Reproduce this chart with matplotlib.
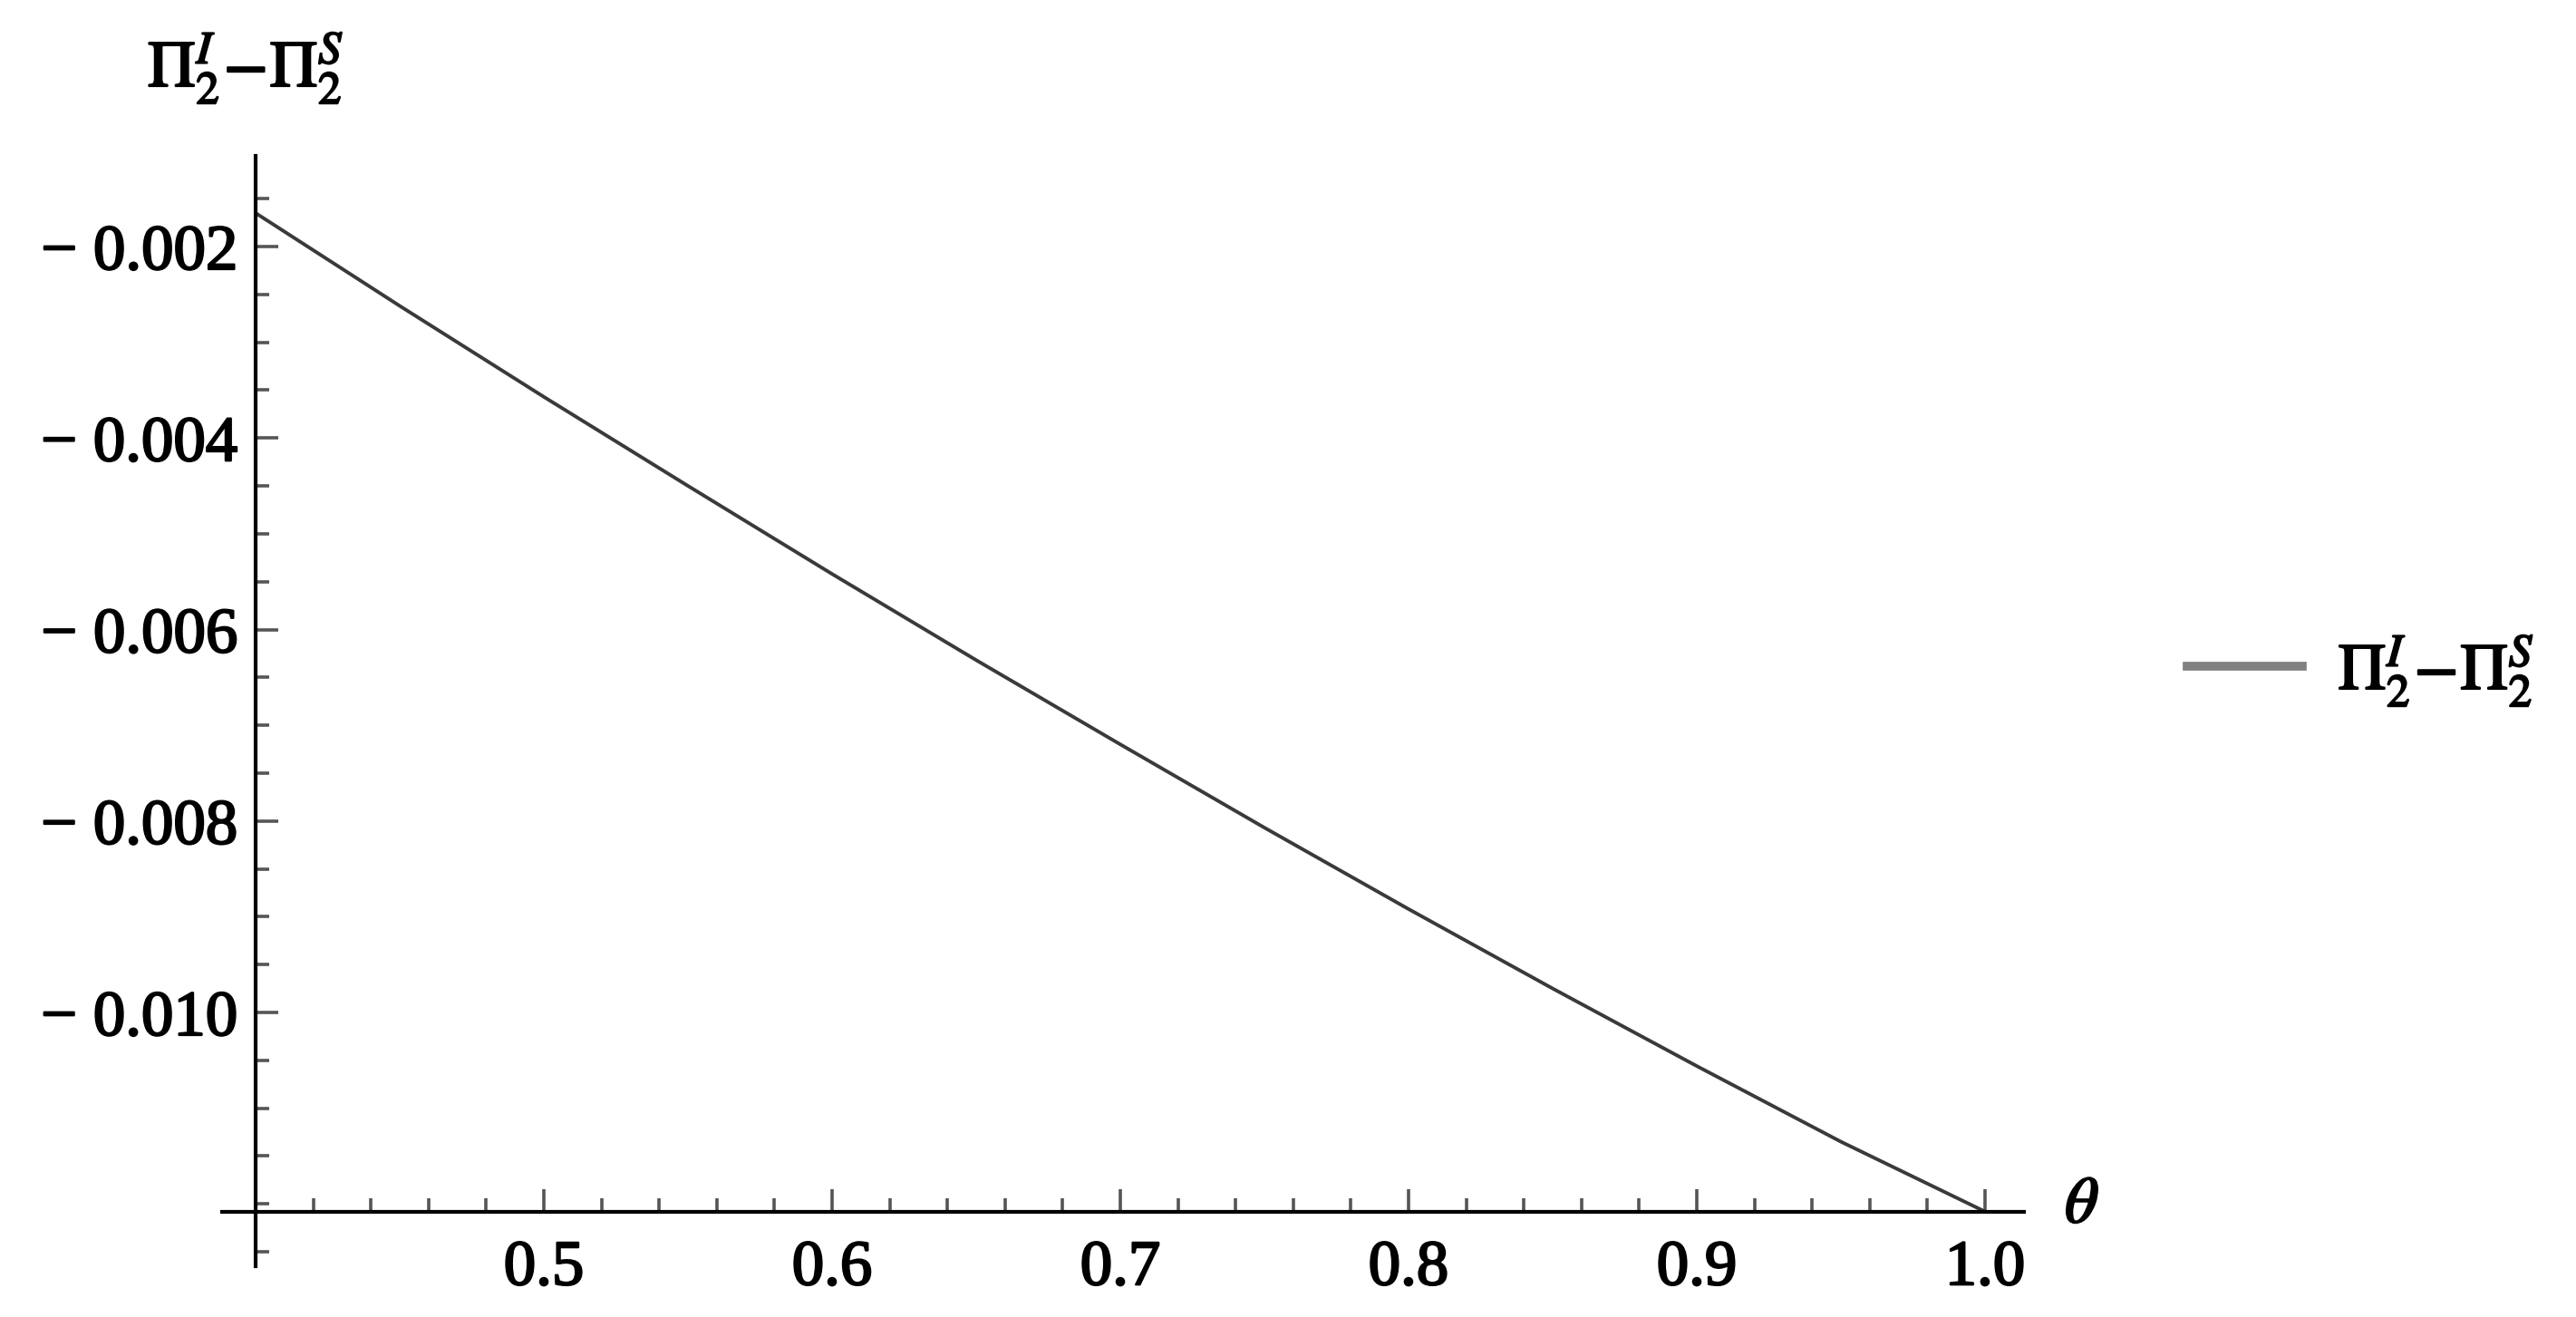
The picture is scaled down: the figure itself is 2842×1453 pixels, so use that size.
import matplotlib
matplotlib.use("Agg")
import matplotlib.pyplot as plt
import matplotlib.patheffects as pe
from matplotlib.ticker import FixedLocator, FixedFormatter, MultipleLocator
from matplotlib.lines import Line2D

# ---- data ----
theta = [0.40, 0.45, 0.50, 0.55, 0.60, 0.65, 0.70, 0.75, 0.80, 0.85, 0.90, 0.95, 1.00]
diff_values = [-0.00165, -0.00262, -0.00357, -0.00450, -0.00542, -0.00632, -0.00720,
               -0.00807, -0.00892, -0.00975, -0.01056, -0.01135, -0.01208]
series_label = r"$\Pi_2^{I}\!-\!\Pi_2^{S}$"
y_axis_label = r"$\Pi_2^{I}\!-\!\Pi_2^{S}$"
x_axis_label = r"$\theta$"
x_ticks = [0.5, 0.6, 0.7, 0.8, 0.9, 1.0]
x_tick_labels = ["0.5", "0.6", "0.7", "0.8", "0.9", "1.0"]
y_ticks = [-0.002, -0.004, -0.006, -0.008, -0.010]
y_tick_labels = ["\u2212 0.002", "\u2212 0.004", "\u2212 0.006", "\u2212 0.008", "\u2212 0.010"]

plt.rcParams["mathtext.fontset"] = "stix"
plt.rcParams["font.family"] = ["Liberation Serif", "DejaVu Serif"]

W, H = 2842, 1453
fig = plt.figure(figsize=(W / 100, H / 100), dpi=100)

# axes frame in pixels
left_px, right_px, top_px, bottom_px = 245, 2233, 172, 1397
ax = fig.add_axes([left_px / W, 1 - bottom_px / H, (right_px - left_px) / W, (bottom_px - top_px) / H])

x0 = 0.4
y_axis_origin = -0.01208
px_per_x = 3180.0
px_per_y = 105625.0
ax.set_xlim(x0 - (282 - left_px) / px_per_x, x0 + (right_px - 282) / px_per_x)
ax.set_ylim(-0.010 - (bottom_px - 1117) / px_per_y, -0.002 + (272 - top_px) / px_per_y)

ax.plot(theta, diff_values, color="#3a3a3a", lw=2.8, solid_capstyle="butt", zorder=3)

for s in ["top", "right"]:
    ax.spines[s].set_visible(False)
ax.spines["left"].set_position(("data", x0))
ax.spines["bottom"].set_position(("data", y_axis_origin))
for s in ["left", "bottom"]:
    ax.spines[s].set_linewidth(3.0)
    ax.spines[s].set_color("black")
    ax.spines[s].set_zorder(4)
ax.patch.set_visible(False)

ax.xaxis.set_major_locator(FixedLocator(x_ticks))
ax.xaxis.set_major_formatter(FixedFormatter(x_tick_labels))
ax.xaxis.set_minor_locator(MultipleLocator(0.02))
ax.yaxis.set_major_locator(FixedLocator(y_ticks))
ax.yaxis.set_major_formatter(FixedFormatter(y_tick_labels))
ax.yaxis.set_minor_locator(MultipleLocator(0.0005))

ax.tick_params(axis="both", which="major", direction="in", length=18, width=2.6,
               color="#555555", labelsize=51, labelcolor="black")
ax.tick_params(axis="both", which="minor", direction="in", length=11, width=2.6,
               color="#555555")
ax.tick_params(axis="x", which="major", pad=22)
ax.tick_params(axis="y", which="major", pad=14)

heavy = [pe.withStroke(linewidth=1.6, foreground="black")]
for lab in ax.get_xticklabels() + ax.get_yticklabels():
    lab.set_path_effects(heavy)

# axis labels (Mathematica-style: at ends of axes)
fig.text(271 / W, 1 - 75 / H, y_axis_label, fontsize=52, ha="center", va="center",
         path_effects=heavy)
fig.text(2297 / W, 1 - 1331 / H, x_axis_label, fontsize=52, ha="center", va="center",
         path_effects=heavy)

# legend
handle = Line2D([], [], color="#808080", lw=7)
leg = fig.legend([handle], [series_label], loc="center left",
                 bbox_to_anchor=(2413 / W, 1 - 740 / H), bbox_transform=fig.transFigure,
                 frameon=False, fontsize=52, handlelength=1.76, handletextpad=0.55,
                 borderpad=0, borderaxespad=0)
for t in leg.get_texts():
    t.set_path_effects(heavy)

fig.savefig("out.png", dpi=100, facecolor="white")
